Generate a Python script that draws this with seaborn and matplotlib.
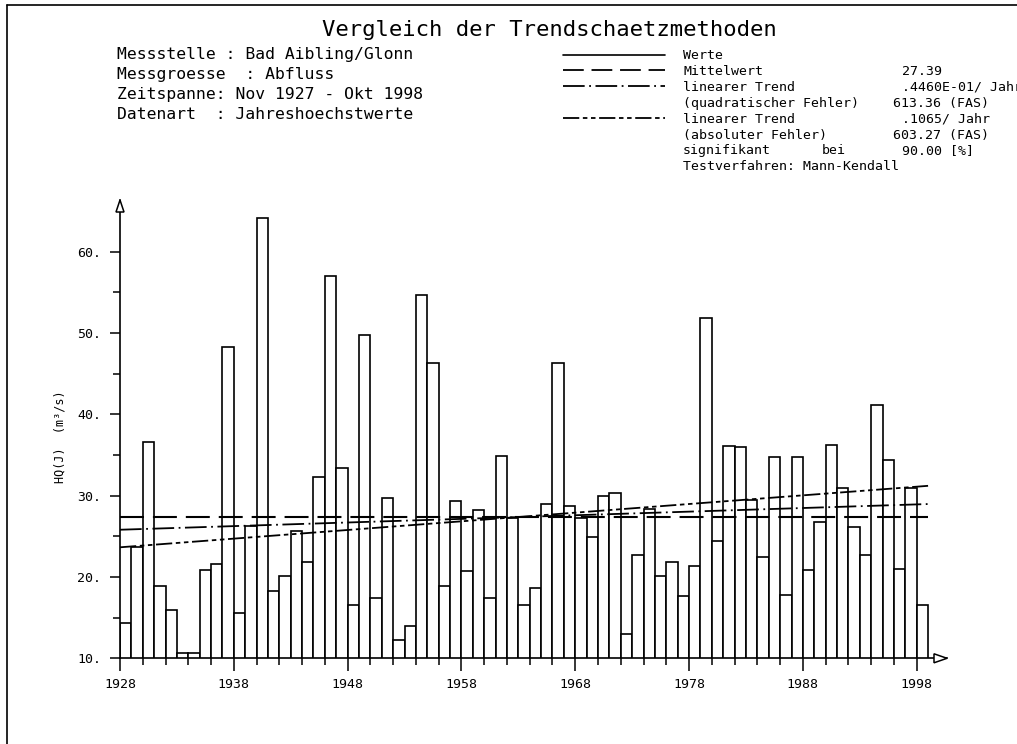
"""Vergleich der Trendschaetzmethoden - Jahreshoechstwerte Bad Aibling/Glonn."""
import matplotlib

matplotlib.use("Agg")
import matplotlib.pyplot as plt
from matplotlib.patches import Polygon
from matplotlib.ticker import FixedLocator
import pandas as pd
import seaborn as sns

# --- Daten -----------------------------------------------------------------
jahre = list(range(1928, 1999))
hq = [14.4, 23.7, 36.6, 18.9, 15.9, 10.7, 10.7, 20.9, 21.6, 48.3,
      15.6, 26.3, 64.1, 18.3, 20.1, 25.7, 21.8, 32.3, 57.0, 33.4,
      16.6, 49.8, 17.4, 29.7, 12.3, 14.0, 54.7, 46.3, 18.9, 29.3,
      20.7, 28.2, 17.4, 34.9, 27.2, 16.6, 18.6, 29.0, 46.3, 28.7,
      27.3, 24.9, 30.0, 30.3, 13.0, 22.7, 28.4, 20.1, 21.9, 17.7,
      21.3, 51.9, 24.4, 36.1, 36.0, 29.5, 22.5, 34.7, 17.8, 34.7,
      20.9, 26.8, 36.2, 31.0, 26.2, 22.7, 41.1, 34.4, 21.0, 31.0, 16.6]

linie_x = [1928, 1999]
mittelwert = [27.39, 27.39]
trend_quadr = [25.81, 28.97]   # .4460E-01 / Jahr
trend_abs = [23.65, 31.21]     # .1065 / Jahr

x_major = [1928, 1938, 1948, 1958, 1968, 1978, 1988, 1998]
x_minor = list(range(1930, 1998, 2))
y_major = [10, 20, 30, 40, 50, 60]
y_minor = [15, 25, 35, 45, 55]

titel = "Vergleich der Trendschaetzmethoden"
kopf = ["Messstelle : Bad Aibling/Glonn",
        "Messgroesse  : Abfluss",
        "Zeitspanne: Nov 1927 - Okt 1998",
        "Datenart  : Jahreshoechstwerte"]
legende_text = ["Werte", "Mittelwert", "linearer Trend",
                "(quadratischer Fehler)", "linearer Trend",
                "(absoluter Fehler)", "signifikant", "Testverfahren: Mann-Kendall"]
legende_wert = ["", "27.39", ".4460E-01/ Jahr", "613.36 (FAS)", ".1065/ Jahr",
                "603.27 (FAS)", "90.00 [%]", ""]

# --- Stil ------------------------------------------------------------------
sns.set_style("ticks", {"axes.edgecolor": "black", "text.color": "black",
                        "xtick.color": "black", "ytick.color": "black",
                        "axes.labelcolor": "black"})
plt.rcParams["font.family"] = ["DejaVu Sans Mono"]
plt.rcParams["axes.linewidth"] = 1.2

MEAN_DASH = (11.5, 4.3)
QUADR_DASH = (12, 2.5, 1, 2.5)
ABS_DASH = (9, 2, 2.5, 2, 2.5, 2)

W, H = 1017, 744
fig = plt.figure(figsize=(W / 100, H / 100), dpi=100)

# Achse: 1928 -> 120 px, 1998 -> 916.7 px ; 10 -> 658.3 px, 60 -> 251.7 px
px_jahr = (916.7 - 120) / 70
px_wert = (658.3 - 251.7) / 50
x_end = 1928 + (947 - 120) / px_jahr
y_end = 10 + (658.3 - 200) / px_wert
ax = fig.add_axes([120 / W, (H - 658.3) / H, (947 - 120) / W, (658.3 - 200) / H])

df = pd.DataFrame({"mitte": [j + 0.5 for j in jahre], "hq": hq})
sns.barplot(data=df, x="mitte", y="hq", native_scale=True, width=1,
            color="white", saturation=1, edgecolor="black", linewidth=1.2,
            errorbar=None, ax=ax)

ax.plot(linie_x, mittelwert, color="black", lw=1.5, dashes=MEAN_DASH)
ax.plot(linie_x, trend_quadr, color="black", lw=1.3, dashes=QUADR_DASH)
ax.plot(linie_x, trend_abs, color="black", lw=1.3, dashes=ABS_DASH)

ax.set_xlim(1928, x_end)
ax.set_ylim(10, y_end)
sns.despine(ax=ax)
ax.set_xlabel("")
ax.set_ylabel("")
ax.xaxis.set_major_locator(FixedLocator(x_major))
ax.xaxis.set_minor_locator(FixedLocator(x_minor))
ax.set_xticklabels([str(j) for j in x_major])
ax.yaxis.set_major_locator(FixedLocator(y_major))
ax.yaxis.set_minor_locator(FixedLocator(y_minor))
ax.set_yticklabels([f"{v}." for v in y_major])
ax.tick_params(axis="x", which="major", length=9.5, width=1.1, pad=5, labelsize=9.5)
ax.tick_params(axis="x", which="minor", length=4.8, width=1.1)
ax.tick_params(axis="y", which="major", length=7.2, width=1.1, pad=6.5, labelsize=9.5)
ax.tick_params(axis="y", which="minor", length=4.8, width=1.1)

# --- Overlay in Pixelkoordinaten ------------------------------------------
ov = fig.add_axes([0, 0, 1, 1], zorder=5)
ov.set_xlim(0, W)
ov.set_ylim(H, 0)
ov.axis("off")
ov.patch.set_alpha(0)

# Rahmen
ov.plot([7, 7], [5, H], color="black", lw=1.2)
ov.plot([7, W], [5, 5], color="black", lw=1.2)

# Pfeilspitzen der Achsen
ov.add_patch(Polygon([(116, 212), (124, 212), (120, 200)], closed=True,
                     facecolor="white", edgecolor="black", lw=1.1))
ov.add_patch(Polygon([(934, 653.8), (934, 662.8), (947, 658.3)], closed=True,
                     facecolor="white", edgecolor="black", lw=1.1))

ov.text(60, 437, "HQ(J)  (m³/s)", rotation=90, ha="center", va="center",
        fontsize=8.5)

ov.text(322, 36, titel, fontsize=16, ha="left", va="baseline")
for i, zeile in enumerate(kopf):
    ov.text(117, 59.5 + 19.9 * i, zeile, fontsize=11.8, ha="left", va="baseline")

# Legende
for i, (t, v) in enumerate(zip(legende_text, legende_wert)):
    yb = 59 + 15.9 * i
    ov.text(683, yb, t, fontsize=9.5, ha="left", va="baseline")
    if v:
        xv = 893 if v.startswith("6") else 902
        ov.text(xv, yb, v, fontsize=9.5, ha="left", va="baseline")
ov.text(822, 59 + 15.9 * 6, "bei", fontsize=9.5, ha="left", va="baseline")

muster = [None, MEAN_DASH, QUADR_DASH, None, ABS_DASH]
for i, d in enumerate(muster):
    if i == 3:
        continue
    y = 54.5 + 15.9 * i
    if d is None:
        ov.plot([563, 665], [y, y], color="black", lw=1.2)
    else:
        ov.plot([563, 665], [y, y], color="black", lw=1.3, dashes=d)

fig.savefig("out.png", dpi=100)
